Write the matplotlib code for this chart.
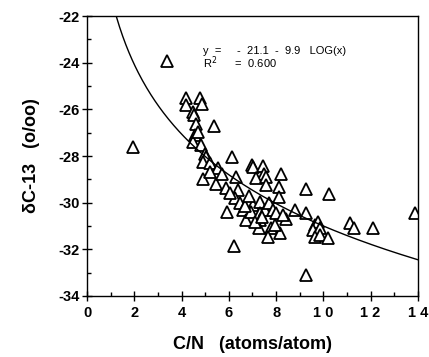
import numpy as np
import matplotlib
matplotlib.use("Agg")
import matplotlib.pyplot as plt
from matplotlib.ticker import MultipleLocator

plt.rcParams["font.family"] = ["Liberation Sans", "DejaVu Sans"]
plt.rcParams["axes.unicode_minus"] = False

# C/N ratio (atoms/atom) and delta C-13 (o/oo)
cn = [3.38, 1.95, 4.17, 4.79, 4.17, 4.88, 4.48, 4.53, 4.60, 5.36,
      4.55, 4.48, 4.84, 4.98, 5.05, 4.91, 5.22, 6.13, 5.54, 4.91,
      5.47, 5.89, 6.29, 6.39, 6.25, 6.46, 5.94, 6.60, 6.74, 6.96,
      7.02, 7.44, 7.47, 7.16, 7.58, 7.56, 8.19, 8.12, 8.12, 7.02,
      7.30, 6.95, 7.30, 7.51, 7.72, 7.87, 8.01, 7.30, 7.28, 7.80,
      7.66, 8.15, 8.43, 8.78, 9.28, 9.28, 6.22, 9.28, 9.63, 9.77,
      9.56, 9.84, 9.63, 9.87, 10.19, 10.24, 11.11, 11.28, 12.10, 13.86,
      6.70, 7.10, 7.40, 7.95, 5.70, 6.05, 5.20, 4.70, 6.85, 8.30]
d13c = [-23.94, -27.61, -25.50, -25.50, -25.82, -25.75, -26.10, -26.25, -26.64, -26.72,
        -27.10, -27.40, -27.54, -27.92, -28.04, -28.25, -28.32, -28.06, -28.50, -28.99,
        -29.18, -29.39, -28.89, -29.46, -29.82, -30.03, -30.39, -30.32, -30.75, -28.39,
        -28.46, -28.42, -28.75, -28.96, -28.89, -29.25, -28.75, -29.32, -29.75, -30.10,
        -29.96, -30.39, -30.46, -30.32, -30.03, -30.32, -30.46, -30.75, -31.10, -31.10,
        -31.46, -31.32, -30.68, -30.32, -29.43, -30.43, -31.86, -33.10, -30.96, -30.82,
        -31.18, -31.10, -31.46, -31.39, -31.53, -29.63, -30.86, -31.10, -31.10, -30.46,
        -30.15, -30.85, -30.60, -30.95, -28.75, -29.60, -28.70, -26.95, -29.70, -30.55]

# fit: y = a + b*log10(x)
fit_a, fit_b = -21.1, -9.9

xticks = [0, 2, 4, 6, 8, 10, 12, 14]
xticklabels = ["0", "2", "4", "6", "8", "1 0", "1 2", "1 4"]
yticks = [-34, -32, -30, -28, -26, -24, -22]

fig = plt.figure(figsize=(4.29, 3.57), dpi=100)
ax = fig.add_axes([0.203, 0.171, 0.771, 0.784])

ax.plot(cn, d13c, linestyle="none", marker="^", markersize=9,
        markerfacecolor="white", markeredgecolor="black", markeredgewidth=1.3)

xf = np.linspace(0.8, 14, 300)
ax.plot(xf, fit_a + fit_b * np.log10(xf), color="black", linewidth=1.0)

ax.set_xlim(0, 14)
ax.set_ylim(-34, -22)
ax.set_xticks(xticks)
ax.set_xticklabels(xticklabels)
ax.set_yticks(yticks)
ax.xaxis.set_minor_locator(MultipleLocator(1))
ax.yaxis.set_minor_locator(MultipleLocator(1))
ax.tick_params(which="major", direction="inout", length=7, width=1.0,
               labelsize=10.5, pad=2)
ax.tick_params(axis="x", which="major", pad=4)
ax.tick_params(which="minor", direction="in", length=3, width=1.0)
for lab in ax.get_xticklabels() + ax.get_yticklabels():
    lab.set_fontweight("bold")
for sp in ax.spines.values():
    sp.set_linewidth(1.0)

ax.set_xlabel("C/N   (atoms/atom)", fontsize=13, fontweight="bold", labelpad=11)
ax.set_ylabel("δC-13   (o/oo)", fontsize=13, fontweight="bold", labelpad=13)

ax.text(4.9, -23.5, "y  =     -  21.1  -  9.9   LOG(x)", fontsize=8, va="center")
ax.text(4.9, -24.02, "R$^{2}$      =  0.600", fontsize=8, va="center")

fig.savefig("out.png", dpi=100)
